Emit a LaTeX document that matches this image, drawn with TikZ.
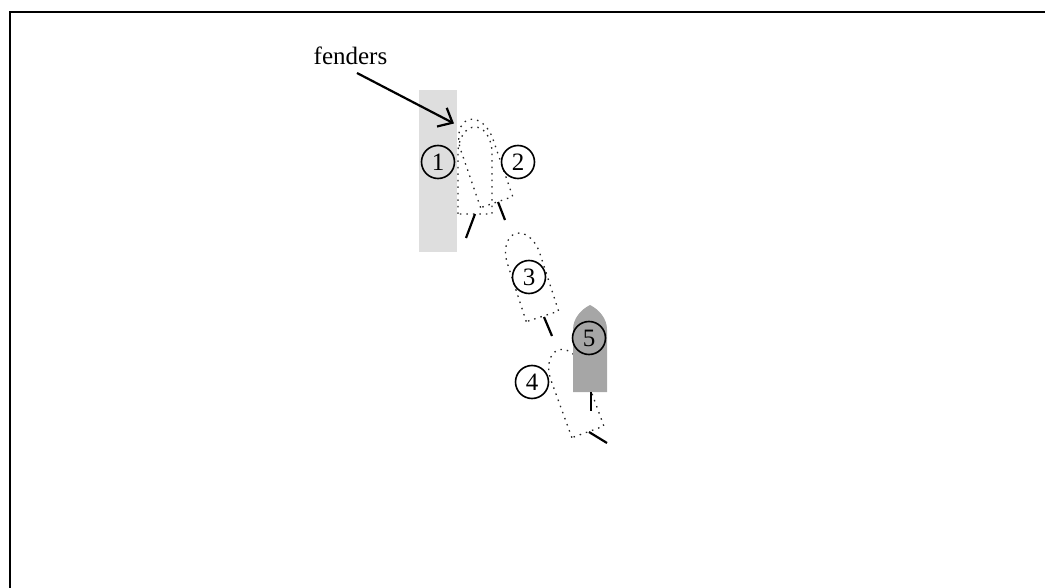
\documentclass[tikz,border=0pt]{standalone}
\usepackage{fontspec}
\setmainfont{Liberation Serif}
\usetikzlibrary{arrows.meta}
\tikzset{
  x=1pt,y=-1pt,
  frameline/.style={line width=2.2pt,black},
  hulldots/.style={draw=black!85,line width=1.3pt,dash pattern=on 1.5pt off 5pt},
  hullsolid/.style={fill=black!35,draw=none},
  rudder/.style={line width=2.2pt,black},
  numcircle/.style={circle,draw=black,line width=1.6pt,minimum size=33pt,inner sep=0pt,font=\fontsize{25}{30}\selectfont},
  labeltext/.style={inner sep=0pt,font=\fontsize{25}{30}\selectfont},
  pointer/.style={line width=2.2pt,black,-{Straight Barb[length=12pt,width=21pt,line width=2.2pt]}},
  boat/.pic={
    \path[pic actions] (-17,43.5) -- (-17,-19)
      .. controls (-17,-30) and (-9,-39) .. (0,-43.5)
      .. controls (9,-39) and (17,-30) .. (17,-19)
      -- (17,43.5) -- cycle;
  },
  roundboat/.pic={
    \path[pic actions] (-17,43.5) -- (-17,-17)
      .. controls (-17,-33) and (-9,-43.5) .. (0,-43.5)
      .. controls (9,-43.5) and (17,-33) .. (17,-17)
      -- (17,43.5) -- cycle;
  }
}
\begin{document}
\begin{tikzpicture}
\useasboundingbox (0,0) rectangle (1045,588);
\draw[frameline] (10,588) -- (10,12) -- (1045,12);
% quay
\fill[black!13] (419,90) rectangle (457,252);
% boat positions
\pic[hulldots] at (475,170.5) {roundboat};
\pic[hulldots,rotate=19] at (482.5,161) {roundboat};
\pic[hulldots,rotate=18] at (529,275) {roundboat};
\pic[hulldots,rotate=20] at (573,391) {roundboat};
\pic[hullsolid] at (590,348.5) {boat};
% rudders
\coordinate (r1a) at (475,214); \coordinate (r1b) at (466,238);
\coordinate (r2a) at (498,202); \coordinate (r2b) at (505,220);
\coordinate (r3a) at (544,317); \coordinate (r3b) at (552,336);
\coordinate (r4a) at (589,432); \coordinate (r4b) at (607,443);
\coordinate (r5a) at (591,392); \coordinate (r5b) at (591,411);
\draw[rudder] (r1a) -- (r1b);
\draw[rudder] (r2a) -- (r2b);
\draw[rudder] (r3a) -- (r3b);
\draw[rudder] (r4a) -- (r4b);
\draw[rudder] (r5a) -- (r5b);
% numbers
\node[numcircle] (n1) at (438,162) {1};
\node[numcircle] (n2) at (518,162) {2};
\node[numcircle] (n3) at (529,277) {3};
\node[numcircle] (n4) at (532,382) {4};
\node[numcircle] (n5) at (589,338) {5};
% label
\node[labeltext] (fenders) at (350.5,56) {fenders};
\coordinate (ptail) at (357,73);
\coordinate (ptip) at (454,123.5);
\draw[pointer] (ptail) -- (ptip);
\end{tikzpicture}
\end{document}
